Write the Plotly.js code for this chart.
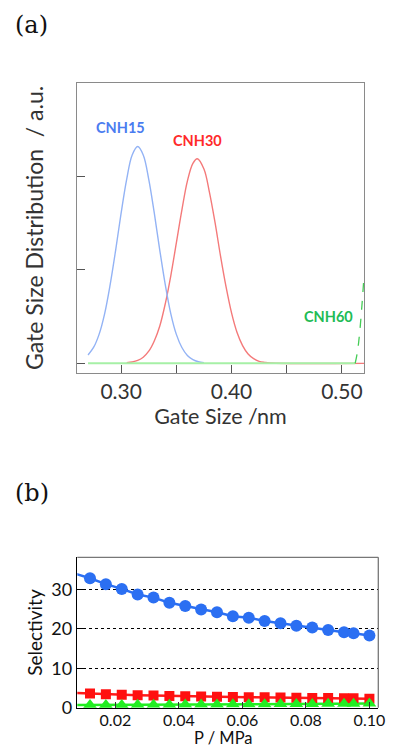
<!DOCTYPE html>
<html>
<head>
<meta charset="utf-8">
<script src="https://cdn.plot.ly/plotly-3.0.1.min.js"></script>
<style>html,body{margin:0;padding:0;background:#fff;}#chart{width:393px;height:749px;}</style>
</head>
<body>
<div id="chart"></div>
<script>
// ---- Panel (a): gate size distributions ----
var cnh15Size = [0.270, 0.275, 0.280, 0.285, 0.290, 0.295, 0.300, 0.305, 0.310, 0.315, 0.320, 0.325, 0.330, 0.335, 0.340, 0.345, 0.350, 0.355, 0.360, 0.365, 0.370, 0.375];
var cnh15Dist = [0.09, 0.17, 0.31, 0.53, 0.84, 1.21, 1.61, 1.97, 2.23, 2.32, 2.23, 1.97, 1.61, 1.21, 0.84, 0.53, 0.31, 0.17, 0.085, 0.04, 0.017, 0.006];
var cnh30Size = [0.305, 0.310, 0.315, 0.320, 0.325, 0.330, 0.335, 0.340, 0.345, 0.350, 0.355, 0.360, 0.365, 0.369, 0.375, 0.380, 0.385, 0.390, 0.395, 0.400, 0.405, 0.410, 0.415, 0.420, 0.425, 0.430, 0.435, 0.520];
var cnh30Dist = [0.006, 0.014, 0.031, 0.066, 0.13, 0.24, 0.40, 0.64, 0.94, 1.29, 1.64, 1.95, 2.14, 2.19, 2.08, 1.83, 1.51, 1.15, 0.82, 0.54, 0.33, 0.19, 0.10, 0.05, 0.022, 0.01, 0.003, 0.0];
var cnh60BaseSize = [0.270, 0.512];
var cnh60BaseDist = [0.0, 0.0];
var cnh60RiseSize = [0.512, 0.514, 0.516, 0.518, 0.520];
var cnh60RiseDist = [0.0, 0.12, 0.32, 0.60, 0.93];
var gateTickVals = [0.30, 0.35, 0.40, 0.45, 0.50];
var gateTickText = ["0.30", "", "0.40", "", "0.50"];

// ---- Panel (b): selectivity vs pressure ----
var pressure = [0.012, 0.017, 0.022, 0.027, 0.032, 0.037, 0.042, 0.047, 0.052, 0.057, 0.062, 0.067, 0.072, 0.077, 0.082, 0.087, 0.092, 0.095, 0.100];
var selBlue = [32.8, 31.3, 30.1, 28.7, 27.9, 26.6, 25.8, 24.9, 24.2, 23.2, 22.8, 22.0, 21.4, 20.8, 20.3, 19.7, 19.1, 18.9, 18.3];
var selRed = [3.6, 3.4, 3.3, 3.2, 3.1, 3.0, 2.9, 2.85, 2.8, 2.75, 2.7, 2.65, 2.6, 2.55, 2.5, 2.45, 2.4, 2.4, 2.3];
var selGreen = [0.7, 0.72, 0.74, 0.76, 0.78, 0.8, 0.82, 0.84, 0.86, 0.88, 0.9, 0.92, 0.94, 0.96, 0.98, 1.0, 1.02, 1.04, 1.06];
var fitStartP = 0.006;
var fitStartBlue = 34.3;
var fitStartRed = 3.8;
var fitStartGreen = 0.68;
var selTickVals = [0, 10, 20, 30];
var pTickVals = [0.02, 0.04, 0.06, 0.08, 0.10];
var pTickText = ["0.02", "0.04", "0.06", "0.08", "0.10"];

var SANS = 'Lato, "Open Sans", sans-serif';
var SERIF = '"DejaVu Serif", "Liberation Serif", serif';

var traces = [
  {x: cnh30Size, y: cnh30Dist, mode: 'lines', line: {color: '#f47a7a', width: 1.4, shape: 'spline'}, xaxis: 'x', yaxis: 'y', hoverinfo: 'skip', showlegend: false},
  {x: cnh15Size, y: cnh15Dist, mode: 'lines', line: {color: '#93b3f5', width: 1.4, shape: 'spline'}, xaxis: 'x', yaxis: 'y', hoverinfo: 'skip', showlegend: false},
  {x: cnh60BaseSize, y: cnh60BaseDist, mode: 'lines', line: {color: '#a6f0a6', width: 2}, xaxis: 'x', yaxis: 'y', hoverinfo: 'skip', showlegend: false},
  {x: cnh60RiseSize, y: cnh60RiseDist, mode: 'lines', line: {color: '#44cc55', width: 1.3, dash: 'dash', shape: 'spline'}, xaxis: 'x', yaxis: 'y', hoverinfo: 'skip', showlegend: false},

  {x: [fitStartP].concat(pressure), y: [fitStartGreen].concat(selGreen), mode: 'lines', line: {color: '#22ee22', width: 2.5}, xaxis: 'x2', yaxis: 'y2', showlegend: false},
  {x: [fitStartP].concat(pressure), y: [fitStartRed].concat(selRed), mode: 'lines', line: {color: '#ff1a1a', width: 2.5}, xaxis: 'x2', yaxis: 'y2', showlegend: false},
  {x: [fitStartP].concat(pressure), y: [fitStartBlue].concat(selBlue), mode: 'lines', line: {color: '#2b6ff2', width: 2.5}, xaxis: 'x2', yaxis: 'y2', showlegend: false},
  {x: pressure, y: selRed, mode: 'markers', marker: {symbol: 'square', size: 10, color: '#ff1010'}, xaxis: 'x2', yaxis: 'y2', showlegend: false},
  {x: pressure, y: selGreen, mode: 'markers', marker: {symbol: 'triangle-up', size: 12, color: '#22ee22'}, xaxis: 'x2', yaxis: 'y2', showlegend: false},
  {x: pressure, y: selBlue, mode: 'markers', marker: {symbol: 'circle', size: 12, color: '#2b6ff2'}, xaxis: 'x2', yaxis: 'y2', showlegend: false}
];

var layout = {
  width: 393, height: 749,
  margin: {l: 0, r: 0, t: 0, b: 0},
  paper_bgcolor: '#ffffff', plot_bgcolor: '#ffffff',
  font: {family: SANS, color: '#222'},
  xaxis: {
    domain: [77/393, 364/393], anchor: 'y', range: [0.26, 0.52],
    tickvals: gateTickVals, ticktext: gateTickText,
    ticks: 'inside', ticklen: 8, tickcolor: '#555', tickwidth: 1,
    showline: true, linecolor: '#8a8a8a', linewidth: 1.3, mirror: true,
    showgrid: false, zeroline: false,
    tickfont: {family: SANS, size: 21, color: '#333'},
    title: {text: 'Gate Size /nm', font: {family: SANS, size: 21.5, color: '#333'}, standoff: 1}
  },
  yaxis: {
    domain: [1 - 372.7/749, 1 - 83/749], anchor: 'x', range: [-0.1, 3.0],
    tickvals: [0, 1, 2], showticklabels: false,
    ticks: 'inside', ticklen: 8, tickcolor: '#555', tickwidth: 1,
    showline: true, linecolor: '#8a8a8a', linewidth: 1.3, mirror: true,
    showgrid: false, zeroline: false,
    title: {text: 'Gate Size Distribution  / a.u.', font: {family: SANS, size: 23, color: '#333'}, standoff: 25}
  },
  xaxis2: {
    domain: [77.3/393, 378.3/393], anchor: 'y2', range: [0.008, 0.1028],
    tickvals: pTickVals, ticktext: pTickText,
    ticks: 'inside', ticklen: 6, tickcolor: '#333', tickwidth: 1,
    showline: true, linecolor: '#000', linewidth: 1.5, mirror: false,
    showgrid: false, zeroline: false,
    ticklabelstandoff: -3,
    tickfont: {family: SANS, size: 16, color: '#111'}
  },
  yaxis2: {
    domain: [1 - 707.8/749, 1 - 557.3/749], anchor: 'x2', range: [0, 38.1],
    tickvals: selTickVals,
    ticks: 'inside', ticklen: 7, tickcolor: '#000', tickwidth: 1,
    showline: true, linecolor: '#000', linewidth: 1.5, mirror: false,
    showgrid: true, gridcolor: '#000', gridwidth: 1, griddash: 'dot', zeroline: false,
    tickfont: {family: SANS, size: 18, color: '#111'},
    title: {text: 'Selectivity', font: {family: SANS, size: 19, color: '#111'}, standoff: 3}
  },
  shapes: [
    {type: 'line', xref: 'x2 domain', yref: 'y2 domain', x0: 1, x1: 1, y0: 0, y1: 1, line: {color: '#777', width: 1.3}},
    {type: 'line', xref: 'x2 domain', yref: 'y2 domain', x0: 0, x1: 1, y0: 1, y1: 1, line: {color: '#777', width: 1.3}}
  ],
  annotations: [
    {text: '(a)', xref: 'paper', yref: 'paper', x: 13/393, y: 1 - 25/749, xanchor: 'left', yanchor: 'middle', showarrow: false, font: {family: SERIF, size: 24, color: '#111'}},
    {text: '(b)', xref: 'paper', yref: 'paper', x: 13/393, y: 1 - 493/749, xanchor: 'left', yanchor: 'middle', showarrow: false, font: {family: SERIF, size: 24, color: '#111'}},
    {text: 'P / MPa', xref: 'paper', yref: 'paper', x: 223/393, y: 0, xanchor: 'center', yanchor: 'bottom', yshift: 0, borderpad: 0, showarrow: false, font: {family: SANS, size: 16.5, color: '#111'}},
    {text: '<b>CNH15</b>', xref: 'x', yref: 'y', x: 0.2995, y: 2.52, showarrow: false, font: {family: SANS, size: 14.5, color: '#4a7cf0'}},
    {text: '<b>CNH30</b>', xref: 'x', yref: 'y', x: 0.3690, y: 2.38, showarrow: false, font: {family: SANS, size: 14.5, color: '#ff2a2a'}},
    {text: '<b>CNH60</b>', xref: 'x', yref: 'y', x: 0.4876, y: 0.50, showarrow: false, font: {family: SANS, size: 14.5, color: '#22bb55'}}
  ]
};

Plotly.newPlot('chart', traces, layout, {staticPlot: true, displayModeBar: false});
</script>
</body>
</html>
